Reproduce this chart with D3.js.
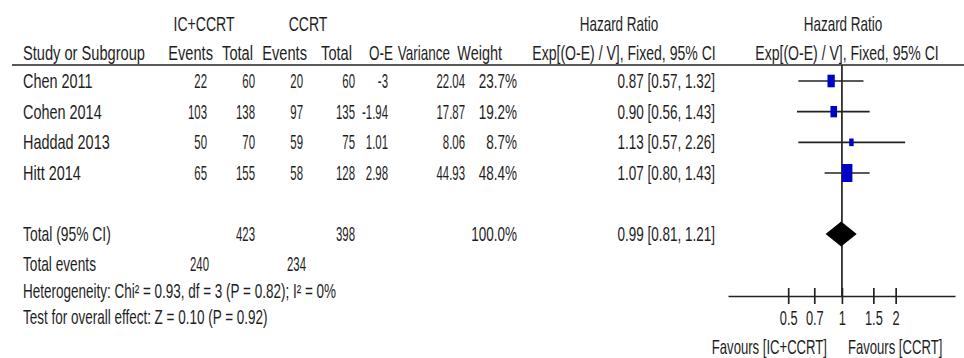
<!DOCTYPE html>
<html>
<head>
<meta charset="utf-8">
<script src="https://cdn.jsdelivr.net/npm/d3@7/dist/d3.min.js"></script>
<style>
  html, body { margin: 0; padding: 0; background: #fff; }
  svg { display: block; }
  text { font-family: "Liberation Sans", Arial, sans-serif; font-size: 20px; fill: #1e1e1e; }
</style>
</head>
<body>
<svg id="chart" width="964" height="358"></svg>
<script>
// ---- data ----
const studies     = ["Chen 2011", "Cohen 2014", "Haddad 2013", "Hitt 2014"];
const icEvents    = [22, 103, 50, 65];
const icTotal     = [60, 138, 70, 155];
const ccrtEvents  = [20, 97, 59, 58];
const ccrtTotal   = [60, 135, 75, 128];
const oMinusE     = [-3, -1.94, 1.01, 2.98];
const variance    = [22.04, 17.87, 8.06, 44.93];
const weight      = [23.7, 19.2, 8.7, 48.4];
const hr          = [0.87, 0.90, 1.13, 1.07];
const hrLow       = [0.57, 0.56, 0.57, 0.80];
const hrHigh      = [1.32, 1.43, 2.26, 1.43];

const pooled      = { hr: 0.99, low: 0.81, high: 1.21 };
const totals      = { ic: 423, ccrt: 398, weight: 100.0 };
const totalEvents = { ic: 240, ccrt: 234 };
const heterogeneityText = "Heterogeneity: Chi\u00B2 = 0.93, df = 3 (P = 0.82); I\u00B2 = 0%";
const overallEffectText = "Test for overall effect: Z = 0.10 (P = 0.92)";
const axisTicks   = [0.5, 0.7, 1, 1.5, 2];
const favourLeft  = "Favours [IC+CCRT]";
const favourRight = "Favours [CCRT]";

// ---- layout ----
const svg = d3.select("#chart");
const K = 19 / 20;                // condensing factors were tuned at 19px
const SX_WORD = 0.74 * K;
const SX_NUM  = 0.57;             // plain figures are set very narrow
const SX_MIX  = 0.71 * K;         // percentages, intervals, statistics lines
const capHalf = 7.1;              // half cap height, to centre text on a row

const rowY   = d3.scalePoint().domain(studies).range([81, 173]);
const yTotal = 234, yEvents = 264, yHet = 291, yTest = 317;
const yHead1 = 24, yHead2 = 53, yRule = 65, yAxis = 296;

const x = d3.scaleLog().domain([0.23, 4.3]).range([728, 955]);

function txt(xp, yc, s, anchor = "start", sx = SX_WORD) {
  svg.append("text")
    .attr("transform", `translate(${xp},${yc + capHalf}) scale(${sx},1)`)
    .attr("text-anchor", anchor)
    .text(s);
}
const num = (xp, yc, v) => txt(xp, yc, String(v), "end", SX_NUM);

// column right edges
const col = { study: 23, icE: 207, icT: 255, ccE: 303, ccT: 355, oe: 388, v: 465, w: 517, ci: 715 };

// ---- headers ----
txt(204, yHead1, "IC+CCRT", "middle");
txt(308, yHead1, "CCRT", "middle");
txt(619, yHead1, "Hazard Ratio", "middle", SX_MIX);
txt(843, yHead1, "Hazard Ratio", "middle", SX_MIX);

txt(col.study, yHead2, "Study or Subgroup", "start", 0.77 * K);
txt(213, yHead2, "Events", "end", 0.77 * K);
txt(253, yHead2, "Total", "end", 0.77 * K);
txt(307, yHead2, "Events", "end", 0.77 * K);
txt(352, yHead2, "Total", "end", 0.77 * K);
txt(393, yHead2, "O-E", "end", SX_MIX);
txt(450, yHead2, "Variance", "end", SX_MIX);
txt(502, yHead2, "Weight", "end", 0.76 * K);
txt(624, yHead2, "Exp[(O-E) / V], Fixed, 95% CI", "middle", 0.74 * K);
txt(847, yHead2, "Exp[(O-E) / V], Fixed, 95% CI", "middle", 0.74 * K);

svg.append("line")
  .attr("x1", 12).attr("x2", 964).attr("y1", yRule).attr("y2", yRule)
  .attr("stroke", "#222").attr("stroke-width", 1.7);

// ---- study rows ----
const fmt2 = d3.format(".2f");
const ciText = (m, lo, hi) => `${fmt2(m)} [${fmt2(lo)}, ${fmt2(hi)}]`;
studies.forEach((s, i) => {
  const y = rowY(s);
  txt(col.study, y, s, "start", 0.76 * K);
  num(col.icE, y, icEvents[i]);
  num(col.icT, y, icTotal[i]);
  num(col.ccE, y, ccrtEvents[i]);
  num(col.ccT, y, ccrtTotal[i]);
  num(col.oe, y, oMinusE[i]);
  num(col.v, y, fmt2(variance[i]));
  txt(col.w, y, weight[i].toFixed(1) + "%", "end", SX_MIX);
  txt(col.ci, y, ciText(hr[i], hrLow[i], hrHigh[i]), "end", SX_MIX);
});

// ---- totals ----
txt(col.study, yTotal, "Total (95% CI)", "start", 0.73 * K);
num(col.icT, yTotal, totals.ic);
num(col.ccT, yTotal, totals.ccrt);
txt(col.w, yTotal, totals.weight.toFixed(1) + "%", "end", SX_MIX);
txt(col.ci, yTotal, ciText(pooled.hr, pooled.low, pooled.high), "end", SX_MIX);

txt(col.study, yEvents, "Total events", "start", 0.72 * K);
num(209, yEvents, totalEvents.ic);
num(306, yEvents, totalEvents.ccrt);
txt(col.study, yHet, heterogeneityText, "start", SX_MIX);
txt(col.study, yTest, overallEffectText, "start", SX_MIX);

// ---- forest plot ----
const plot = svg.append("g");

// line of no effect
plot.append("line")
  .attr("x1", x(1)).attr("x2", x(1)).attr("y1", yRule).attr("y2", yAxis)
  .attr("stroke", "#222").attr("stroke-width", 1.7);

// confidence intervals
plot.selectAll("line.ci").data(studies).join("line")
  .attr("class", "ci")
  .attr("x1", (d, i) => x(hrLow[i])).attr("x2", (d, i) => x(hrHigh[i]))
  .attr("y1", d => rowY(d)).attr("y2", d => rowY(d))
  .attr("stroke", "#222").attr("stroke-width", 1.7);

// weight boxes (area proportional to weight)
const boxH = d3.scaleSqrt().domain([0, 48.4]).range([0, 18]);
plot.selectAll("rect.box").data(studies).join("rect")
  .attr("class", "box")
  .attr("x", (d, i) => x(hr[i]) - boxH(weight[i]) * 0.29)
  .attr("y", (d, i) => rowY(d) - boxH(weight[i]) / 2)
  .attr("width", (d, i) => boxH(weight[i]) * 0.58)
  .attr("height", (d, i) => boxH(weight[i]))
  .attr("fill", "#0000c8");

// pooled diamond
plot.append("path")
  .attr("d", `M${x(pooled.low)},${yTotal} L${x(pooled.hr)},${yTotal - 12.5} L${x(pooled.high)},${yTotal} L${x(pooled.hr)},${yTotal + 12.5} Z`)
  .attr("fill", "#000");

// axis
const axis = d3.axisBottom(x).tickValues(axisTicks).tickFormat(d3.format("~g"))
  .tickSizeOuter(0).tickSizeInner(7).tickPadding(8);
const ag = plot.append("g").attr("transform", `translate(0,${yAxis})`).call(axis);
ag.select(".domain").attr("stroke", "#222").attr("stroke-width", 1.7);
ag.selectAll(".tick line").attr("y1", -8).attr("y2", 8)
  .attr("stroke", "#222").attr("stroke-width", 1.7);
ag.selectAll(".tick text")
  .attr("font-family", null).attr("font-size", null)
  .attr("fill", "#1e1e1e")
  .attr("transform", `scale(0.64,1)`);

// favours labels
txt(x(1) - 15, 347, favourLeft, "end", 0.69 * K);
txt(x(1) + 6, 347, favourRight, "start", 0.69 * K);
</script>
</body>
</html>
